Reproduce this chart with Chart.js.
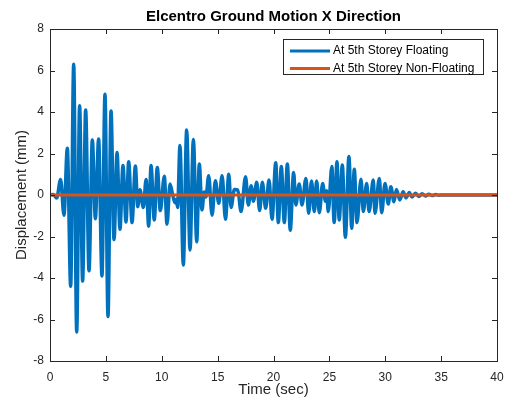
<!DOCTYPE html>
<html>
<head>
<meta charset="utf-8">
<script src="https://cdn.jsdelivr.net/npm/chart.js@4"></script>
<style>
  body { margin: 0; background: #fff; }
  #wrap { width: 509px; height: 407px; }
</style>
</head>
<body>
<div id="wrap"><canvas id="motionChart" width="509" height="407"></canvas></div>
<script>
const chartTitle = "Elcentro Ground Motion X Direction";
const xLabel = "Time (sec)";
const yLabel = "Displacement (mm)";
const seriesNames = ["At 5th Storey Floating", "At 5th Storey Non-Floating"];

// floating storey, peaks
const floatTime = [
  0, 0.3, 0.6, 0.95, 1.25, 1.55, 1.85, 2.12, 2.39, 2.65,
  2.92, 3.19, 3.49, 3.79, 4.06, 4.35, 4.65, 4.92, 5.19, 5.46,
  5.73, 6.0, 6.26, 6.53, 6.8, 7.04, 7.34, 7.64, 7.85, 8.05,
  8.35, 8.6, 8.83, 9.04, 9.33, 9.6, 9.87, 10.23, 10.47, 10.74,
  10.98, 11.19, 11.3, 11.42, 11.63, 11.93, 12.23, 12.53, 12.83, 13.13,
  13.36, 13.6, 13.8, 13.95, 14.2, 14.5, 14.8, 15.1, 15.4, 15.7,
  16.0, 16.2, 16.5, 16.8, 17.1, 17.5, 17.75, 18.0, 18.2, 18.5,
  18.76, 19.0, 19.3, 19.6, 19.87, 20.2, 20.43, 20.7, 20.97, 21.24,
  21.5, 21.8, 22.0, 22.3, 22.55, 22.9, 23.15, 23.4, 23.65, 23.86,
  24.1, 24.4, 24.65, 24.75, 24.9, 25.22, 25.43, 25.68, 25.88, 26.16,
  26.43, 26.75, 27.0, 27.23, 27.47, 27.83, 28.04, 28.34, 28.55, 28.93,
  29.08, 29.47, 29.68, 29.98, 30.27, 30.5, 30.78, 31.0, 31.3, 31.6,
  31.86, 32.15, 32.4, 32.7, 33.0, 33.3, 33.6, 33.9, 34.2, 34.5,
  34.8, 35.2, 40
];
const floatDisp = [
  0, 0.02, -0.15, 0.75, -0.97, 2.25, -4.4, 6.3, -6.6, 4.3,
  -4.15, 4.1, -3.65, 2.65, -1.15, 2.7, -3.9, 4.85, -5.85, 4.05,
  -2.15, 2.05, -1.65, 1.42, -1.3, 1.6, -1.33, 1.4, -0.56, 0.25,
  -0.6, 0.75, -1.5, 1.42, -1.2, 1.33, -0.75, 0.9, -1.4, 0.53,
  0.0, -0.37, -0.2, -0.6, 2.38, -3.37, 3.13, -2.65, 2.68, -2.25,
  1.5, -0.72, 0.15, -0.1, 0.93, -0.97, 0.69, -0.4, 0.93, -1.17,
  1.0, -0.6, 0.27, 0.25, -0.8, 0.88, -0.48, 0.45, -0.3, 0.61,
  -0.75, 0.61, -0.64, 0.72, -1.17, 1.56, -1.33, 1.37, -1.33, 1.5,
  -1.7, 1.08, -0.48, 0.53, -0.48, 0.8, -0.88, 0.67, -0.8, 0.67,
  -0.85, 0.56, -0.3, 0.2, -0.8, 1.37, -1.33, 1.6, -1.2, 1.45,
  -2.04, 1.85, -1.6, 1.24, -1.33, 0.76, -0.8, 0.56, -0.8, 0.72,
  -0.88, 0.8, -0.85, 0.56, -0.43, 0.4, -0.32, 0.27, -0.24, 0.16,
  -0.14, 0.12, -0.1, 0.09, -0.07, 0.06, -0.05, 0.04, -0.03, 0.02,
  -0.01, 0, 0
];

// non-floating storey stays flat at zero
const nonFloatTime = [0, 40];
const nonFloatDisp = [0, 0];

const xTicks = [0, 5, 10, 15, 20, 25, 30, 35, 40];
const yTicks = [-8, -6, -4, -2, 0, 2, 4, 6, 8];

const toPoints = (xs, ys) => xs.map((x, i) => ({ x: x, y: ys[i] }));

const axisColor = "#262626";
const fontFamily = "'Liberation Sans', Arial, sans-serif";

// matlab style box, inward ticks, title and legend
const matlabLook = {
  id: "matlabLook",
  afterDraw(chart) {
    const c = chart.ctx;
    const a = chart.chartArea;
    const xs = chart.scales.x;
    const ys = chart.scales.y;
    c.save();
    c.strokeStyle = axisColor;
    c.lineWidth = 1;
    c.beginPath();
    xTicks.forEach(t => {
      const px = Math.round(xs.getPixelForValue(t)) + 0.5;
      c.moveTo(px, a.bottom); c.lineTo(px, a.bottom - 5);
      c.moveTo(px, a.top); c.lineTo(px, a.top + 5);
    });
    yTicks.forEach(t => {
      const py = Math.round(ys.getPixelForValue(t)) + 0.5;
      c.moveTo(a.left, py); c.lineTo(a.left + 5, py);
      c.moveTo(a.right, py); c.lineTo(a.right - 5, py);
    });
    c.stroke();
    c.strokeRect(Math.round(a.left) + 0.5, Math.round(a.top) + 0.5,
      Math.round(a.right - a.left), Math.round(a.bottom - a.top));

    // title
    c.fillStyle = "#000";
    c.font = "bold 15px " + fontFamily;
    c.textAlign = "center";
    c.textBaseline = "middle";
    c.fillText(chartTitle, (a.left + a.right) / 2, 17);

    // legend
    const lx = 283, ly = 39, lw = 200, lh = 35;
    c.fillStyle = "#fff";
    c.fillRect(lx, ly, lw, lh);
    c.strokeStyle = axisColor;
    c.strokeRect(lx + 0.5, ly + 0.5, lw, lh);
    c.font = "12px " + fontFamily;
    c.textAlign = "left";
    chart.data.datasets.forEach((ds, i) => {
      const yy = ly + 12 + i * 17.5;
      c.strokeStyle = ds.borderColor;
      c.lineWidth = 3;
      c.beginPath();
      c.moveTo(lx + 7, yy); c.lineTo(lx + 47, yy);
      c.stroke();
      c.fillStyle = "#000";
      c.fillText(ds.label, lx + 50, yy);
    });
    c.restore();
  }
};

const ctx = document.getElementById("motionChart").getContext("2d");
const chart = new Chart(ctx, {
  type: "line",
  data: {
    datasets: [
      {
        label: seriesNames[0],
        data: toPoints(floatTime, floatDisp),
        borderColor: "#0072BD",
        backgroundColor: "#0072BD",
        borderWidth: 3.5,
        borderJoinStyle: "round",
        borderCapStyle: "round",
        pointRadius: 0,
        cubicInterpolationMode: "monotone",
        order: 2,
      },
      {
        label: seriesNames[1],
        data: toPoints(nonFloatTime, nonFloatDisp),
        borderColor: "#D95319",
        backgroundColor: "#D95319",
        borderWidth: 3,
        pointRadius: 0,
        tension: 0,
        order: 1,
      },
    ],
  },
  options: {
    responsive: false,
    animation: false,
    layout: { padding: { top: 29, right: 12, left: 0, bottom: 0 } },
    plugins: {
      legend: { display: false },
      title: { display: false },
      tooltip: { enabled: false },
    },
    scales: {
      x: {
        type: "linear",
        min: 0,
        max: 40,
        afterFit: s => { s.height = 46; s.paddingLeft = 0; s.paddingRight = 0; },
        afterBuildTicks: s => { s.ticks = xTicks.map(v => ({ value: v })); },
        grid: { display: false, drawTicks: false },
        border: { display: false },
        ticks: { color: axisColor, padding: 9, font: { family: fontFamily, size: 12 }, maxRotation: 0 },
        title: { display: true, text: xLabel, color: axisColor, padding: { top: 0, bottom: 8 }, font: { family: fontFamily, size: 15 } },
      },
      y: {
        min: -8,
        max: 8,
        afterFit: s => { s.width = 50; s.paddingTop = 0; s.paddingBottom = 0; },
        afterBuildTicks: s => { s.ticks = yTicks.map(v => ({ value: v })); },
        grid: { display: false, drawTicks: false },
        border: { display: false },
        ticks: { color: axisColor, padding: 6, font: { family: fontFamily, size: 12 } },
        title: { display: true, text: yLabel, color: axisColor, padding: { top: 13, bottom: 0 }, font: { family: fontFamily, size: 15 } },
      },
    },
  },
  plugins: [matlabLook],
});
</script>
</body>
</html>
